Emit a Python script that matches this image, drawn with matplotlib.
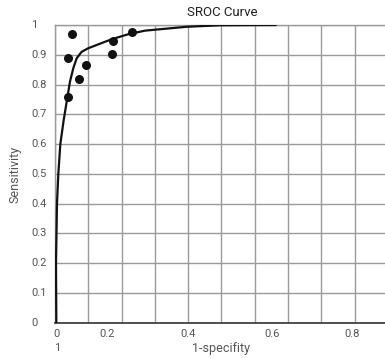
"""SROC curve: study points and fitted summary curve."""

import matplotlib

matplotlib.use("Agg")
import matplotlib.pyplot as plt
import numpy as np

# study estimates (1-specificity, sensitivity)
study_fpr = [0.050, 0.040, 0.039, 0.071, 0.093, 0.170, 0.175, 0.230]
study_tpr = [0.971, 0.888, 0.757, 0.818, 0.865, 0.903, 0.946, 0.978]

# summary curve
curve_fpr = [0.004, 0.003, 0.006, 0.010, 0.016, 0.026, 0.035, 0.045, 0.055,
             0.065, 0.080, 0.100, 0.130, 0.170, 0.220, 0.270, 0.395, 0.495, 0.663]
curve_tpr = [0.000, 0.200, 0.400, 0.500, 0.600, 0.680, 0.742, 0.810, 0.855,
             0.888, 0.910, 0.922, 0.935, 0.952, 0.969, 0.981, 0.994, 0.999, 1.000]

y_tick_labels = ["0", "0.1", "0.2", "0.3", "0.4", "0.5", "0.6", "0.7", "0.8", "0.9", "1"]
x_tick_labels = ["0", "0.2", "0.4", "0.6", "0.8"]

TEXT_GREY = "#555555"
GRID_GREY = "#9a9a9a"
plt.rcParams["font.family"] = ["Roboto", "DejaVu Sans"]

fig = plt.figure(figsize=(3.85, 3.58), dpi=100)
ax = fig.add_axes([55 / 385, 35.3 / 358, 333 / 385, 297.7 / 358])

ax.plot(curve_fpr, curve_tpr, color="#111111", linewidth=1.6,
        solid_capstyle="round", solid_joinstyle="round", zorder=3)
ax.scatter(study_fpr, study_tpr, s=30, color="#111111", zorder=4)

ax.set_xlim(0, 1)
ax.set_ylim(0, 1)
ax.set_xticks(np.arange(0, 1.01, 0.1))
ax.set_yticks(np.arange(0, 1.01, 0.1))
ax.set_xticklabels([])
ax.set_yticklabels([])
ax.tick_params(length=0)
ax.grid(True, color=GRID_GREY, linewidth=1.0)
ax.set_axisbelow(True)
for side in ("top", "left", "right"):
    ax.spines[side].set_color(GRID_GREY)
    ax.spines[side].set_linewidth(1.0)
ax.spines["bottom"].set_color("#333333")
ax.spines["bottom"].set_linewidth(1.2)

# y tick labels sit left-aligned in a column
ytrans = ax.get_yaxis_transform()
for val, lab in zip(np.arange(0, 1.01, 0.1), y_tick_labels):
    ax.text(-0.072, val, lab, transform=ytrans, ha="left", va="center",
            fontsize=8, color=TEXT_GREY)

# x tick labels are offset from the grid in the original
x_label_pos = [0.006, 0.156, 0.399, 0.651, 0.892]
for xp, lab in zip(x_label_pos, x_tick_labels):
    ax.text(xp, -0.038, lab, transform=ax.transAxes, ha="center", va="center",
            fontsize=8, color=TEXT_GREY)
ax.text(0.006, -0.085, "1", transform=ax.transAxes, ha="center", va="center",
        fontsize=8, color=TEXT_GREY)

ax.text(0.5, -0.088, "1-specifity", transform=ax.transAxes, ha="center", va="center",
        fontsize=9, color=TEXT_GREY)
fig.text(15 / 385, 1 - 174 / 358, "Sensitivity", rotation=90, ha="center", va="center",
         fontsize=9, color=TEXT_GREY)
fig.text(222 / 385, 1 - 12 / 358, "SROC Curve", ha="center", va="center",
         fontsize=9.5, color="#222222")

fig.savefig("out.png", dpi=100)
